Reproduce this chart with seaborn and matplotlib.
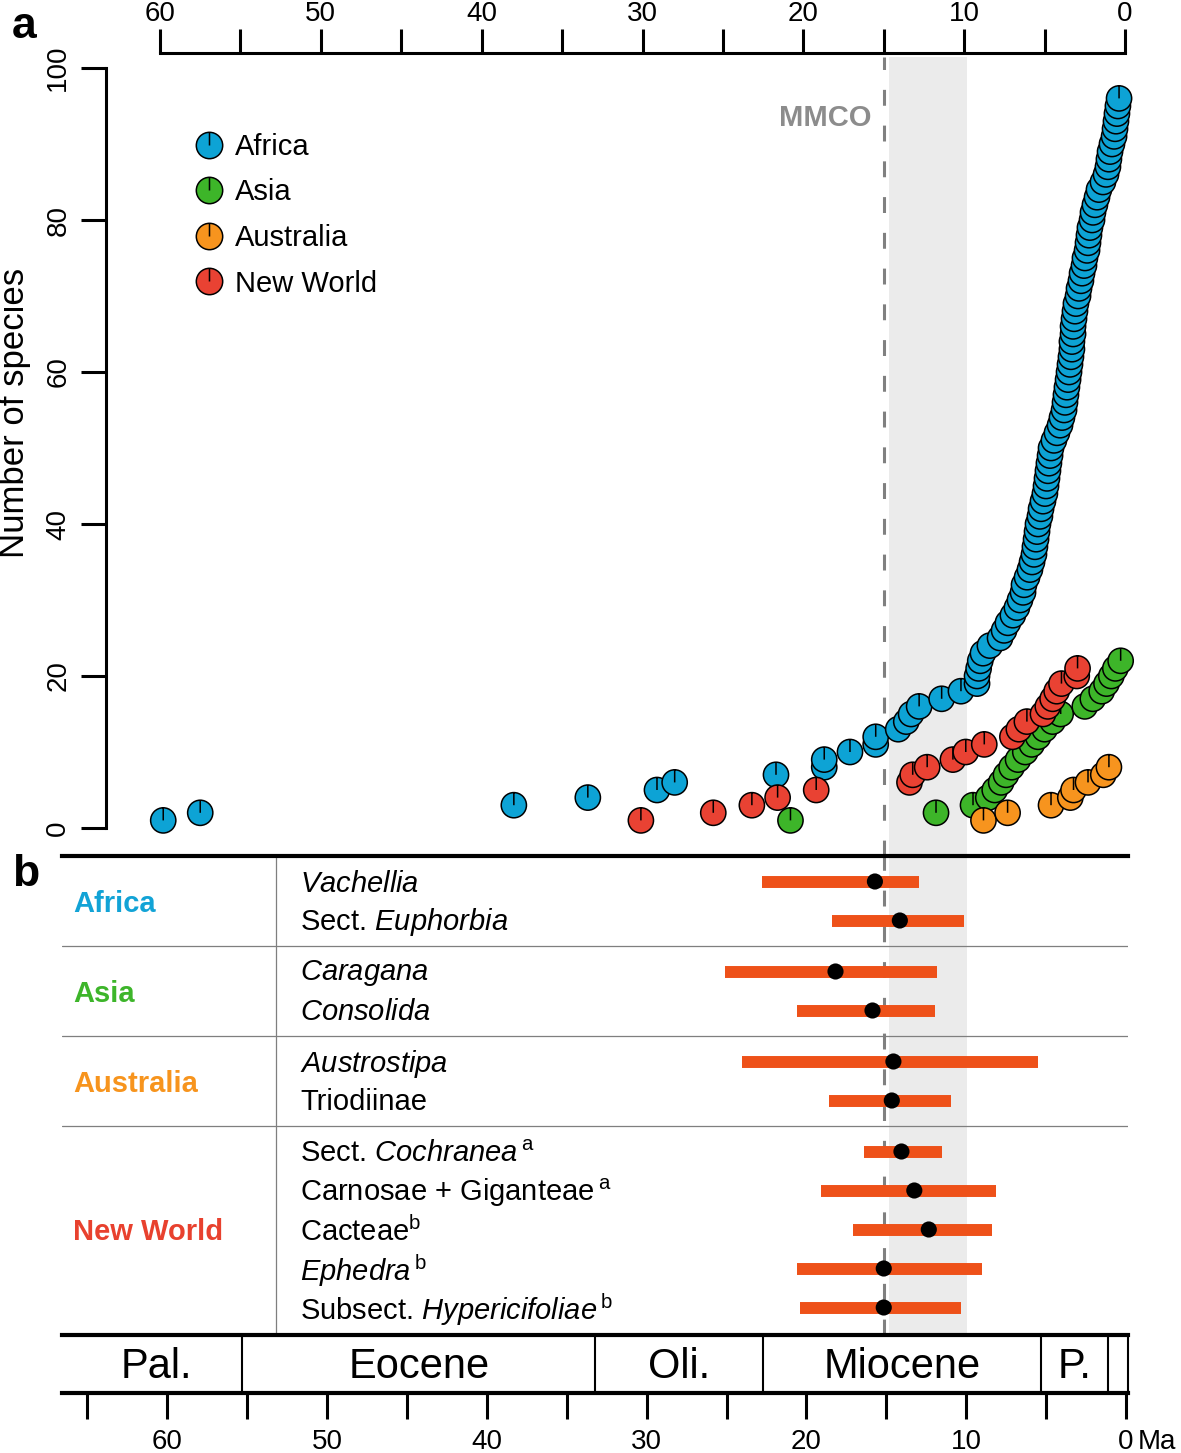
import numpy as np
import pandas as pd
import matplotlib
matplotlib.use('Agg')
import matplotlib.pyplot as plt
from matplotlib.path import Path
from matplotlib.lines import Line2D
import seaborn as sns

# Figure size in pixels (saved at dpi 100)
W, H = 1181, 1453

# ---------------------------------------------------------------
# Panel a: cumulative number of species through time (Ma)
# ---------------------------------------------------------------
africa_age = [59.8, 57.5, 38.0, 33.4, 29.1, 28.0, 21.7, 18.7, 18.7, 17.1,
              15.5, 15.5, 14.1, 13.6, 13.3, 12.8, 11.4, 10.2, 9.2, 9.2,
              9.1, 9.0, 8.83, 8.40, 7.77, 7.52, 7.28, 6.97, 6.72, 6.53,
              6.34, 6.28, 6.09, 5.91, 5.78, 5.66, 5.60, 5.53, 5.47, 5.41,
              5.29, 5.22, 5.10, 4.98, 4.91, 4.85, 4.79, 4.73, 4.66, 4.60,
              4.42, 4.23, 4.04, 3.92, 3.79, 3.73, 3.67, 3.61, 3.54, 3.48,
              3.42, 3.36, 3.30, 3.30, 3.23, 3.23, 3.17, 3.11, 3.05, 2.92,
              2.86, 2.74, 2.67, 2.55, 2.49, 2.36, 2.30, 2.24, 2.18, 2.05,
              1.99, 1.87, 1.74, 1.62, 1.37, 1.18, 1.06, 1.00, 0.93, 0.81,
              0.68, 0.62, 0.56, 0.50, 0.44, 0.37]
africa_n = [1, 2, 3, 4, 5, 6, 7, 8, 9, 10,
            11, 12, 13, 14, 15, 16, 17, 18, 19, 20,
            21, 22, 23, 24, 25, 26, 27, 28, 29, 30,
            31, 32, 33, 34, 35, 36, 37, 38, 39, 40,
            41, 42, 43, 44, 45, 46, 47, 48, 49, 50,
            51, 52, 53, 54, 55, 56, 57, 58, 59, 60,
            61, 62, 63, 64, 65, 66, 67, 68, 69, 70,
            71, 72, 73, 74, 75, 76, 77, 78, 79, 80,
            81, 82, 83, 84, 85, 86, 87, 88, 89, 90,
            91, 92, 93, 94, 95, 96]

asia_age = [20.8, 11.75, 9.45, 8.5, 8.1, 7.7, 7.4, 7.05, 6.65, 6.2, 5.8,
            5.4, 5.0, 4.5, 4.0, 2.5, 2.0, 1.45, 1.15, 0.85, 0.6, 0.27]
asia_n = [1, 2, 3, 4, 5, 6, 7, 8, 9, 10, 11,
          12, 13, 14, 15, 16, 17, 18, 19, 20, 21, 22]

australia_age = [8.8, 7.3, 4.6, 3.4, 3.2, 2.3, 1.35, 1.0]
australia_n = [1, 2, 3, 4, 5, 6, 7, 8]

newworld_age = [30.1, 25.6, 23.2, 21.6, 19.2, 13.4, 13.2, 12.3, 10.7, 9.9,
                8.75, 7.0, 6.6, 6.1, 5.1, 4.8, 4.5, 4.25, 3.95, 3.0, 2.95]
newworld_n = [1, 2, 3, 4, 5, 6, 7, 8, 9, 10,
              11, 12, 13, 14, 15, 16, 17, 18, 19, 20, 21]

regions = ['Africa', 'Asia', 'Australia', 'New World']
point_colors = ['#0DA3D5', '#3DB529', '#F7941E', '#E94233']
label_colors = ['#12A3D6', '#3DB52A', '#F7941D', '#E8412E']

# ---------------------------------------------------------------
# Panel b: crown ages of the lineages (median and 95% HPD)
# ---------------------------------------------------------------
species = [r'$\mathit{Vachellia}$',
           r'Sect. $\mathit{Euphorbia}$',
           r'$\mathit{Caragana}$',
           r'$\mathit{Consolida}$',
           r'$\mathit{Austrostipa}$',
           'Triodiinae',
           r'Sect. $\mathit{Cochranea}\,^{\mathrm{a}}$',
           r'Carnosae + Giganteae$\,^{\mathrm{a}}$',
           r'Cacteae$^{\mathrm{b}}$',
           r'$\mathit{Ephedra}\,^{\mathrm{b}}$',
           r'Subsect. $\mathit{Hypericifoliae}\,^{\mathrm{b}}$']
species_region = ['Africa', 'Africa', 'Asia', 'Asia', 'Australia', 'Australia',
                  'New World', 'New World', 'New World', 'New World', 'New World']
age_median = [15.55, 14.0, 18.0, 15.7, 14.4, 14.5, 13.9, 13.1, 12.2, 15.0, 15.0]
age_young = [12.8, 10.0, 11.7, 11.8, 5.4, 10.8, 11.4, 8.0, 8.3, 8.9, 10.2]
age_old = [22.6, 18.2, 24.9, 20.4, 23.8, 18.4, 16.2, 18.9, 16.9, 20.4, 20.2]

# Middle Miocene Climatic Optimum
mmco_age = 15.0
band_old = 14.7
band_young = 9.8

# Geological time scale
epochs = ['Pal.', 'Eocene', 'Oli.', 'Miocene', 'P.', '']
epoch_old = [66.0, 55.3, 33.2, 22.7, 5.3, 1.1]
epoch_young = [55.3, 33.2, 22.7, 5.3, 1.1, 0.0]


def box(left, top, right, bottom):
    # pixel box -> figure fraction rect
    return [left / W, 1 - bottom / H, (right - left) / W, (bottom - top) / H]


def age_top(px):
    # x pixel -> Ma for panels a and b
    return (1125 - px) / 16.083


def age_bottom(px):
    # x pixel -> Ma for the time scale bar
    return (1126 - px) / 15.98


def pie_marker():
    # circle with a short radius line, like the little "pie" symbols
    circle = Path.unit_circle()
    verts = np.concatenate([circle.vertices, [[0, 0], [0, 1]]])
    codes = np.concatenate([circle.codes, [Path.MOVETO, Path.LINETO]])
    return Path(verts, codes)


def draw_panel_a(fig, marker):
    ax = fig.add_axes(box(106, 53, 1128, 856))
    ax.set_xlim(age_top(106), age_top(1128))
    ax.set_ylim((828 - 856) / 7.6, (828 - 53) / 7.6)

    ax.axvspan(band_old, band_young, ymin=0, ymax=0.995,
               color='#EBEBEB', lw=0, zorder=0)
    ax.axvline(mmco_age, ymin=0, ymax=0.995, color='#808080',
               lw=2.2, dashes=(5.2, 6.5), zorder=1)

    frames = []
    for name, ages, counts in zip(regions,
                                  [africa_age, asia_age, australia_age, newworld_age],
                                  [africa_n, asia_n, australia_n, newworld_n]):
        frames.append(pd.DataFrame({'age': ages, 'n': counts, 'region': name}))
    df = pd.concat(frames, ignore_index=True)

    sns.scatterplot(data=df, x='age', y='n', hue='region', hue_order=regions,
                    palette=dict(zip(regions, point_colors)), marker=marker,
                    s=330, edgecolor='black', linewidth=1.1, legend=False,
                    ax=ax, zorder=3, clip_on=False)

    # axes: R-like left and top axes
    for side in ['right', 'bottom']:
        ax.spines[side].set_visible(False)
    ax.spines['left'].set_bounds(0, 100)
    ax.spines['top'].set_bounds(0, 60)
    ax.spines['left'].set_linewidth(2.2)
    ax.spines['top'].set_linewidth(2.2)

    ticks = list(range(0, 61, 5))
    ax.set_xticks(ticks)
    ax.set_xticklabels([str(t) if t % 10 == 0 else '' for t in ticks])
    ax.tick_params(axis='x', top=True, labeltop=True, bottom=False,
                   labelbottom=False, direction='out', length=17, width=2.2,
                   pad=1.5, labelsize=20)
    ax.set_yticks([0, 20, 40, 60, 80, 100])
    ax.tick_params(axis='y', left=True, direction='out', length=18, width=2.2,
                   pad=7, labelsize=20, labelrotation=90)
    for lab in ax.get_yticklabels():
        lab.set_va('center')
    ax.set_xlabel('')
    ax.set_ylabel('')

    ax.annotate('MMCO', xy=(mmco_age, (828 - 118) / 7.6), xytext=(-9, 0),
                textcoords='offset points', ha='right', va='center',
                fontsize=21, fontweight='bold', color='#8C8C8C')

    handles = [Line2D([], [], linestyle='none', marker=marker, markersize=19,
                      markerfacecolor=c, markeredgecolor='black',
                      markeredgewidth=1.1) for c in point_colors]
    ax.legend(handles, regions, loc='upper left',
              bbox_to_anchor=(194 / W, 1 - 133 / H),
              bbox_transform=fig.transFigure, frameon=False, fontsize=21,
              handlelength=1.0, handletextpad=0.4, labelspacing=0.6,
              borderpad=0, borderaxespad=0)

    fig.text(12 / W, 1 - 26 / H, 'a', fontsize=32, fontweight='bold',
             ha='left', va='center')
    fig.text(15 / W, 1 - 413 / H, 'Number of species', rotation=90,
             ha='center', va='center', fontsize=25)


def draw_panel_b(fig):
    ax = fig.add_axes(box(62, 856, 1128, 1335))
    ax.set_xlim(age_top(62), age_top(1128))
    ax.set_ylim(1335, 856)

    # row layout: rows 39 px apart, 25.5 px padding in each block
    step, pad = 39, 25.5
    rows, block_mid, block_edges = [], [], []
    top = 856
    for name in regions:
        n = species_region.count(name)
        rows += [top + pad + i * step for i in range(n)]
        bottom = top + 2 * pad + (n - 1) * step
        block_mid.append((top + bottom) / 2)
        block_edges.append(bottom)
        top = bottom

    ax.axvspan(band_old, band_young, color='#EBEBEB', lw=0, zorder=0)
    ax.axvline(mmco_age, color='#808080', lw=2.2, dashes=(5.2, 6.5), zorder=1)
    for y in block_edges[:-1]:
        ax.axhline(y, color='#7F7F7F', lw=0.9, zorder=1)
    ax.axvline(age_top(276), color='#7F7F7F', lw=0.9, zorder=1)

    ax.hlines(rows, age_young, age_old, color='#EE5119', lw=8.6, zorder=2)
    sns.scatterplot(x=age_median, y=rows, color='black', s=135,
                    edgecolor='none', legend=False, ax=ax, zorder=3)

    for name, mid, c in zip(regions, block_mid, label_colors):
        ax.text(age_top(73), mid + 3, name, color=c, fontsize=21,
                fontweight='bold', ha='left', va='center')
    for lab, y in zip(species, rows):
        ax.text(age_top(300), y + 2, lab, fontsize=21, ha='left', va='center')

    for side in ['left', 'right', 'bottom']:
        ax.spines[side].set_visible(False)
    ax.spines['top'].set_linewidth(3)
    ax.set_xticks([])
    ax.set_yticks([])
    ax.set_xlabel('')
    ax.set_ylabel('')

    fig.text(12 / W, 1 - 874 / H, 'b', fontsize=32, fontweight='bold',
             ha='left', va='center')


def draw_time_scale(fig):
    ax = fig.add_axes(box(62, 1335, 1128, 1393))
    ax.set_xlim(age_bottom(62), age_bottom(1128))
    ax.set_ylim(0, 1)

    for name, old, young in zip(epochs, epoch_old, epoch_young):
        if young > 0:
            ax.axvline(young, color='black', lw=1.5)
        if name:
            ax.text((old + young) / 2, 0.44, name, fontsize=30,
                    ha='center', va='center')

    ax.spines['left'].set_visible(False)
    ax.spines['right'].set_linewidth(1.5)
    ax.spines['top'].set_linewidth(3)
    ax.spines['bottom'].set_linewidth(3)

    ticks = list(range(0, 66, 5))
    ax.set_xticks(ticks)
    ax.set_xticklabels([str(t) if t % 10 == 0 else '' for t in ticks])
    ax.tick_params(axis='x', bottom=True, direction='out', length=19,
                   width=2.2, pad=7, labelsize=20)
    ax.set_yticks([])

    fig.text(1138 / W, 1 - 1442 / H, 'Ma', fontsize=20, ha='left', va='center')


def main():
    sns.set_theme(style='ticks')
    plt.rcParams['font.family'] = ['Liberation Sans', 'DejaVu Sans']
    plt.rcParams['mathtext.fontset'] = 'custom'
    plt.rcParams['mathtext.rm'] = 'Liberation Sans'
    plt.rcParams['mathtext.it'] = 'Liberation Sans:italic'
    plt.rcParams['mathtext.bf'] = 'Liberation Sans:bold'
    for key in ['text.color', 'axes.edgecolor', 'axes.labelcolor',
                'xtick.color', 'ytick.color']:
        plt.rcParams[key] = 'black'

    fig = plt.figure(figsize=(W / 100, H / 100), dpi=100)
    marker = pie_marker()

    draw_panel_a(fig, marker)
    draw_panel_b(fig)
    draw_time_scale(fig)

    fig.savefig('out.png', dpi=100)


if __name__ == "__main__":
    main()
